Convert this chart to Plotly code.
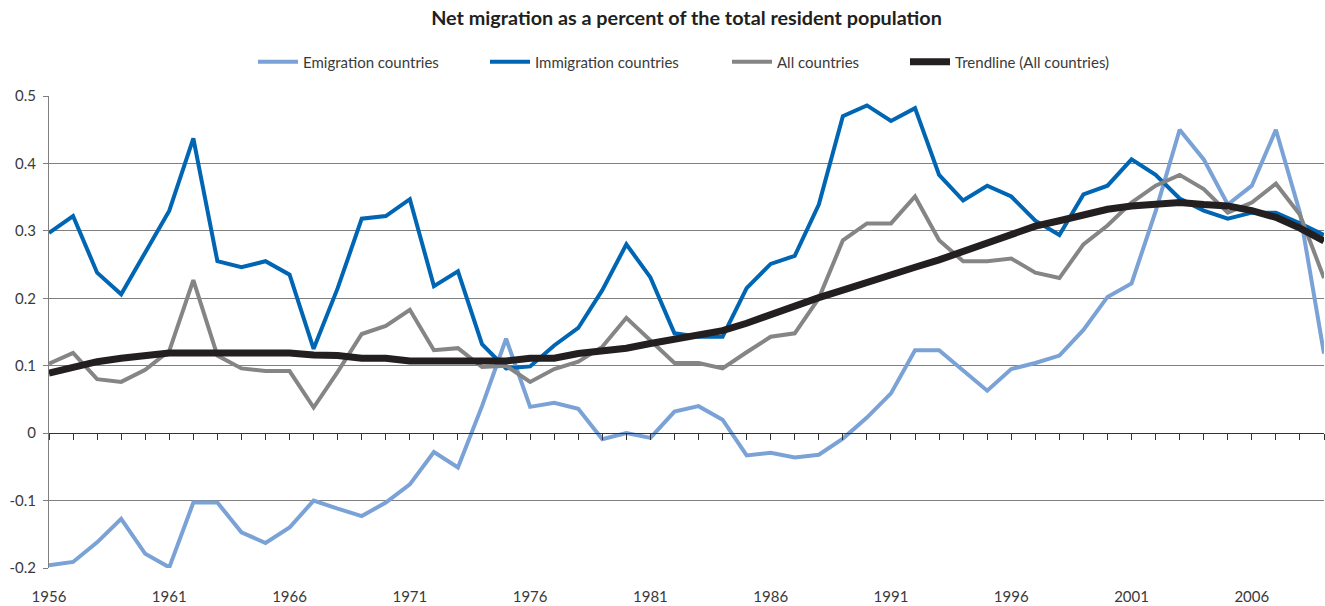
import plotly.graph_objects as go

# Years on the horizontal axis
years = list(range(1956, 2010))

# Net migration, percent of resident population
emigration = [
    -0.196, -0.191, -0.162, -0.127, -0.179, -0.199, -0.103, -0.103, -0.147, -0.163,
    -0.140, -0.100, -0.112, -0.123, -0.103, -0.076, -0.028, -0.051, 0.040, 0.140,
    0.039, 0.045, 0.036, -0.009, 0.000, -0.007, 0.032, 0.040, 0.020, -0.033,
    -0.029, -0.036, -0.032, -0.008, 0.023, 0.059, 0.123, 0.123, 0.093, 0.063,
    0.095, 0.104, 0.115, 0.153, 0.202, 0.222, 0.329, 0.450, 0.406, 0.339,
    0.367, 0.450, 0.327, 0.118,
]
immigration = [
    0.297, 0.322, 0.238, 0.206, 0.268, 0.330, 0.437, 0.255, 0.246, 0.255,
    0.235, 0.125, 0.215, 0.318, 0.322, 0.347, 0.218, 0.240, 0.132, 0.096,
    0.099, 0.130, 0.156, 0.212, 0.280, 0.231, 0.148, 0.143, 0.143, 0.215,
    0.251, 0.263, 0.339, 0.470, 0.486, 0.463, 0.482, 0.383, 0.345, 0.367,
    0.351, 0.315, 0.294, 0.354, 0.367, 0.406, 0.383, 0.348, 0.330, 0.318,
    0.327, 0.327, 0.311, 0.294,
]
all_countries = [
    0.103, 0.119, 0.080, 0.076, 0.094, 0.122, 0.227, 0.115, 0.096, 0.092,
    0.092, 0.038, 0.091, 0.147, 0.159, 0.183, 0.123, 0.126, 0.098, 0.100,
    0.076, 0.095, 0.106, 0.128, 0.171, 0.138, 0.104, 0.104, 0.096, 0.120,
    0.143, 0.148, 0.200, 0.286, 0.311, 0.311, 0.351, 0.286, 0.255, 0.255,
    0.259, 0.238, 0.230, 0.280, 0.308, 0.342, 0.367, 0.383, 0.362, 0.327,
    0.342, 0.370, 0.324, 0.230,
]
trendline = [
    0.089, 0.097, 0.106, 0.111, 0.115, 0.119, 0.119, 0.119, 0.119, 0.119,
    0.119, 0.116, 0.115, 0.111, 0.111, 0.107, 0.107, 0.107, 0.107, 0.107,
    0.111, 0.111, 0.118, 0.121, 0.126, 0.133, 0.139, 0.146, 0.152, 0.163,
    0.176, 0.189, 0.201, 0.212, 0.224, 0.234, 0.246, 0.257, 0.270, 0.282,
    0.295, 0.307, 0.315, 0.324, 0.332, 0.337, 0.339, 0.342, 0.339, 0.337,
    0.330, 0.320, 0.304, 0.285,
]

label_years = [1956, 1961, 1966, 1971, 1976, 1981, 1986, 1991, 1996, 2001, 2006]
y_ticks = [-0.2, -0.1, 0, 0.1, 0.2, 0.3, 0.4, 0.5]
y_labels = ["-0.2", "-0.1", "0", "0.1", "0.2", "0.3", "0.4", "0.5"]

FONT = "Lato"
TEXT = "#3a3a3a"

series = [
    ("Emigration countries", emigration, "#7aa2d6", 4, "legend"),
    ("Immigration countries", immigration, "#0066b3", 4, "legend2"),
    ("All countries", all_countries, "#858585", 4, "legend3"),
    ("Trendline (All countries)", trendline, "#231f20", 7, "legend4"),
]

fig = go.Figure()
for name, vals, color, w, leg in series:
    fig.add_trace(go.Scatter(x=years, y=vals, mode="lines", name=name, legend=leg,
                             line=dict(color=color, width=w)))
# invisible trace so the tick axis sitting on y=0 gets drawn
fig.add_trace(go.Scatter(x=years, y=trendline, xaxis="x2", mode="lines", showlegend=False,
                         hoverinfo="skip", line=dict(width=0), opacity=0))

# one legend per entry, so the spacing follows the reference
plot_left, plot_w = 49, 1275
legend_px = [253, 485, 727, 905]
leg_common = dict(orientation="h", xanchor="left", y=1.072, yanchor="middle",
                  font=dict(family=FONT, size=15, color=TEXT), itemwidth=40,
                  bgcolor="rgba(0,0,0,0)")
legends = {}
for key, px in zip(["legend", "legend2", "legend3", "legend4"], legend_px):
    legends[key] = dict(leg_common, x=(px - plot_left) / plot_w)

fig.update_layout(
    width=1325, height=606,
    margin=dict(l=49, r=1, t=96, b=38),
    paper_bgcolor="white", plot_bgcolor="white",
    font=dict(family=FONT, size=15, color=TEXT),
    title=dict(text="<b>Net migration as a percent of the total resident population</b>",
               x=0.5, xref="paper", xanchor="center", y=1 - 18 / 606, yref="container",
               yanchor="middle", font=dict(family=FONT, size=19.8, color="#231f20")),
    showlegend=True,
    **legends,
    xaxis=dict(range=[1956, 2009], tickvals=label_years, ticks="", showline=False,
               showgrid=False, zeroline=False, tickfont=dict(size=15),
               ticklabelstandoff=18),
    xaxis2=dict(overlaying="x", anchor="free", position=2 / 7, range=[1956, 2009],
                dtick=1, tick0=1956, ticks="outside", ticklen=6, tickcolor="#333333",
                showticklabels=False, showline=True, linecolor="#333333", linewidth=1,
                showgrid=False, zeroline=False),
    yaxis=dict(range=[-0.2, 0.5], tickvals=y_ticks, ticktext=y_labels,
               showgrid=True, gridcolor="#7f7f7f", gridwidth=1, zeroline=False,
               showline=True, linecolor="#7f7f7f", ticks="outside", ticklen=5,
               tickcolor="#7f7f7f", tickfont=dict(size=15), ticklabelstandoff=4),
)

fig.write_html("out.html", config={"displayModeBar": False},
               post_script="document.body.style.margin='0';")
